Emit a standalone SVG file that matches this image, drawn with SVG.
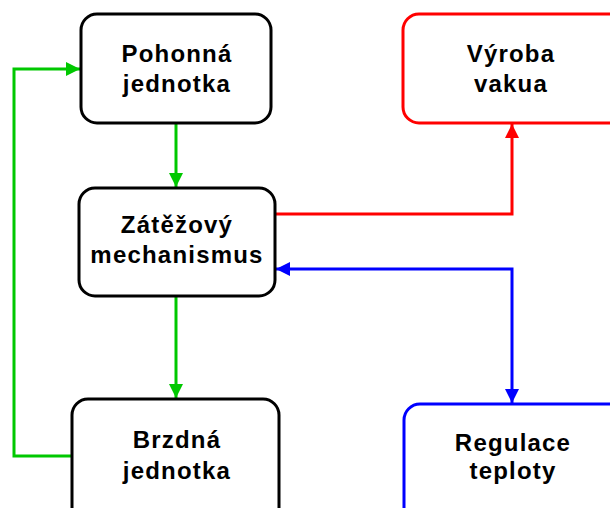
<svg xmlns="http://www.w3.org/2000/svg" width="610" height="508" viewBox="0 0 610 508">
<style>
.box{fill:#fff;stroke-width:3}
.lbl{font-family:"Liberation Sans",Arial,sans-serif;font-weight:bold;font-size:24px;letter-spacing:1.2px;text-anchor:middle;fill:#000}
.con{fill:none;stroke-width:3}
</style>
<defs>
<marker id="ag" viewBox="0 0 10 10" refX="10" refY="5" markerWidth="14" markerHeight="14" markerUnits="userSpaceOnUse" orient="auto-start-reverse"><path d="M0,0L10,5L0,10z" fill="#00C800"/></marker>
<marker id="ar" viewBox="0 0 10 10" refX="10" refY="5" markerWidth="14" markerHeight="14" markerUnits="userSpaceOnUse" orient="auto-start-reverse"><path d="M0,0L10,5L0,10z" fill="#FF0000"/></marker>
<marker id="ab" viewBox="0 0 10 10" refX="10" refY="5" markerWidth="14" markerHeight="14" markerUnits="userSpaceOnUse" orient="auto-start-reverse"><path d="M0,0L10,5L0,10z" fill="#0000FF"/></marker>
</defs>
<rect width="610" height="508" fill="#fff"/>
<g id="connectors">
<path class="con" stroke="#00C800" d="M176,123V187" marker-end="url(#ag)"/>
<path class="con" stroke="#00C800" d="M176,296V398" marker-end="url(#ag)"/>
<path class="con" stroke="#00C800" d="M72,456H14V69H80" marker-end="url(#ag)"/>
<path class="con" stroke="#FF0000" d="M276,214H512V124" marker-end="url(#ar)"/>
<path class="con" stroke="#0000FF" d="M276,269H512V403" marker-start="url(#ab)" marker-end="url(#ab)"/>
</g>
<g id="pohonna">
<rect class="box" stroke="#000" x="81" y="14" width="190" height="109" rx="16"/>
<text class="lbl" x="177" y="62">Pohonná</text>
<text class="lbl" x="177" y="92">jednotka</text>
</g>
<g id="zatezovy">
<rect class="box" stroke="#000" x="79" y="188" width="196" height="108" rx="16"/>
<text class="lbl" x="177" y="233">Zátěžový</text>
<text class="lbl" x="177" y="263">mechanismus</text>
</g>
<g id="brzdna">
<rect class="box" stroke="#000" x="72" y="399" width="207" height="130" rx="16"/>
<text class="lbl" x="177" y="448">Brzdná</text>
<text class="lbl" x="177" y="479">jednotka</text>
</g>
<g id="vyroba">
<rect class="box" stroke="#FF0000" x="403" y="14" width="230" height="109" rx="16"/>
<text class="lbl" x="511" y="62">Výroba</text>
<text class="lbl" x="511" y="92">vakua</text>
</g>
<g id="regulace">
<rect class="box" stroke="#0000FF" x="404" y="404" width="230" height="130" rx="16"/>
<text class="lbl" x="513" y="451">Regulace</text>
<text class="lbl" x="513" y="479">teploty</text>
</g>
</svg>
